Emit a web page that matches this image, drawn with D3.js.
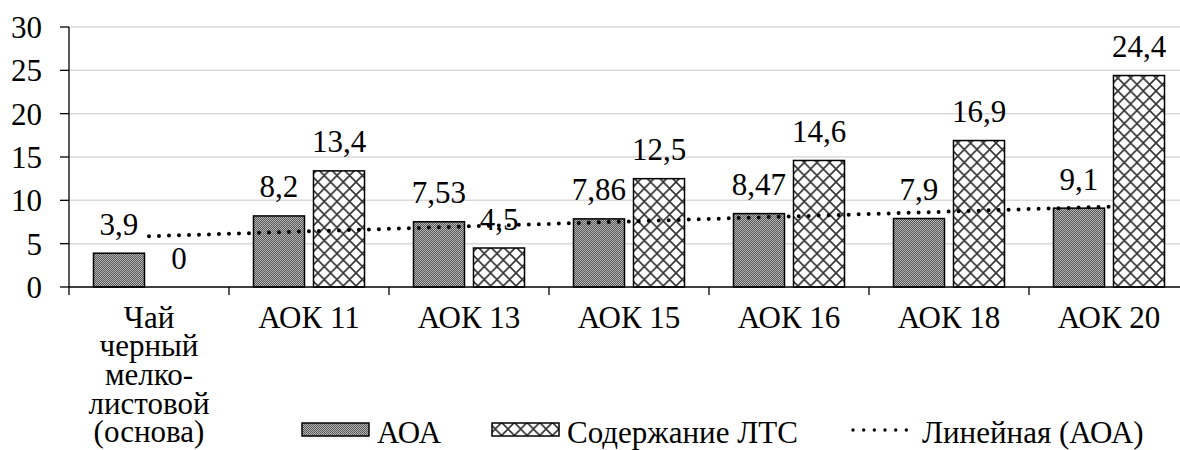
<!DOCTYPE html>
<html>
<head>
<meta charset="utf-8">
<script src="https://cdn.jsdelivr.net/npm/d3@7"></script>
<style>
  html, body { margin: 0; padding: 0; background: #fff; }
  svg { display: block; }
  text { font-family: "Liberation Serif", "Times New Roman", serif; fill: #000; }
</style>
</head>
<body>
<svg id="chart" width="1180" height="450"></svg>
<script>
// Categories (multi-line names split on \n)
const categories = [
  "Чай\nчерный\nмелко-\nлистовой\n(основа)",
  "АОК 11", "АОК 13", "АОК 15", "АОК 16", "АОК 18", "АОК 20"
];
const seriesNames = ["АОА", "Содержание ЛТС"];
const aoaValues = [3.9, 8.2, 7.53, 7.86, 8.47, 7.9, 9.1];
const ltsValues = [0, 13.4, 4.5, 12.5, 14.6, 16.9, 24.4];
const yTicks = [0, 5, 10, 15, 20, 25, 30];
const trendName = "Линейная (АОА)";

const svg = d3.select("#chart");
const FONT = 31;
const LINE = 28.7;   // line step for wrapped category names

const plot = { left: 69, right: 1189, top: 27, bottom: 287 };

const x = d3.scaleBand().domain(d3.range(categories.length))
  .range([plot.left, plot.right]).paddingInner(0).paddingOuter(0);
const xs = d3.scaleBand().domain(seriesNames)
  .range([0, x.bandwidth()]).paddingInner(0.15).paddingOuter(0.408);
const y = d3.scaleLinear().domain([0, 30]).range([plot.bottom, plot.top]);

const fmt = v => String(v).replace(".", ",");

function label(sel, tx, ty, anchor, str) {
  return sel.append("text").attr("x", tx).attr("y", ty)
    .attr("text-anchor", anchor).attr("font-size", FONT).text(str);
}

// Fill patterns
const defs = svg.append("defs");
const dotPat = defs.append("pattern").attr("id", "pat-aoa")
  .attr("patternUnits", "userSpaceOnUse").attr("width", 2).attr("height", 2);
dotPat.append("rect").attr("width", 2).attr("height", 2).attr("fill", "#b8b8b8");
dotPat.append("rect").attr("x", 0).attr("y", 0).attr("width", 1).attr("height", 1).attr("fill", "#555");
dotPat.append("rect").attr("x", 1).attr("y", 1).attr("width", 1).attr("height", 1).attr("fill", "#555");

const PW = 12.7, PH = 13;
const crossPat = defs.append("pattern").attr("id", "pat-lts")
  .attr("patternUnits", "userSpaceOnUse").attr("width", PW).attr("height", PH);
crossPat.append("rect").attr("width", PW).attr("height", PH).attr("fill", "#fff");
crossPat.append("path")
  .attr("d", `M0,0L${PW},${PH}M${PW},0L0,${PH}`)
  .attr("stroke", "#333").attr("stroke-width", 1.6).attr("fill", "none");

const fills = { "АОА": "url(#pat-aoa)", "Содержание ЛТС": "url(#pat-lts)" };

// Gridlines
svg.append("g").selectAll("line").data(yTicks.filter(t => t > 0)).join("line")
  .attr("x1", plot.left).attr("x2", plot.right)
  .attr("y1", d => y(d)).attr("y2", d => y(d))
  .attr("stroke", "#d9d9d9").attr("stroke-width", 1.5);

// Bars
const rows = categories.map((c, i) => ({
  i, vals: [{ s: seriesNames[0], v: aoaValues[i] }, { s: seriesNames[1], v: ltsValues[i] }]
}));
const groups = svg.append("g").selectAll("g").data(rows).join("g")
  .attr("transform", d => `translate(${x(d.i)},0)`);
groups.selectAll("rect").data(d => d.vals.filter(e => e.v > 0)).join("rect")
  .attr("x", e => xs(e.s)).attr("width", xs.bandwidth())
  .attr("y", e => y(e.v)).attr("height", e => y(0) - y(e.v))
  .attr("fill", e => fills[e.s]).attr("stroke", "#000").attr("stroke-width", 1.5);

// Axes
const axes = svg.append("g").attr("stroke", "#000").attr("stroke-width", 1.3);
axes.append("line").attr("x1", plot.left).attr("x2", plot.left)
  .attr("y1", plot.top).attr("y2", plot.bottom);
axes.selectAll(".yt").data(yTicks).join("line").attr("class", "yt")
  .attr("x1", plot.left - 9).attr("x2", plot.left)
  .attr("y1", d => y(d)).attr("y2", d => y(d));
axes.append("line").attr("x1", plot.left).attr("x2", plot.right)
  .attr("y1", plot.bottom).attr("y2", plot.bottom);
axes.selectAll(".xt").data(d3.range(categories.length + 1)).join("line").attr("class", "xt")
  .attr("x1", i => plot.left + i * x.step()).attr("x2", i => plot.left + i * x.step())
  .attr("y1", plot.bottom).attr("y2", plot.bottom + 8);

// Y tick labels
const yl = svg.append("g");
yTicks.forEach(t => label(yl, 42, y(t) + 11, "end", String(t)));

// Category labels (one text element per category, wrapped with tspans)
const xl = svg.append("g");
categories.forEach((c, i) => {
  const cx = x(i) + x.bandwidth() / 2;
  const t = xl.append("text").attr("x", cx).attr("y", 327.5)
    .attr("text-anchor", "middle").attr("font-size", FONT);
  c.split("\n").forEach((line, k) => {
    t.append("tspan").attr("x", cx).attr("dy", k === 0 ? 0 : LINE).text(line);
  });
});

// Linear trendline for AOA (least squares over category index)
const n = aoaValues.length;
const mx = d3.mean(d3.range(n)), my = d3.mean(aoaValues);
const slope = d3.sum(d3.range(n), i => (i - mx) * (aoaValues[i] - my)) /
              d3.sum(d3.range(n), i => (i - mx) ** 2);
const icpt = my - slope * mx;
const trendPts = [0, n - 1].map(i => [x(i) + x.bandwidth() / 2, y(icpt + slope * i)]);
svg.append("path").attr("d", d3.line()(trendPts))
  .attr("fill", "none").attr("stroke", "#000").attr("stroke-width", 4)
  .attr("stroke-linecap", "round").attr("stroke-dasharray", "0 10");

// Value labels
const vl = svg.append("g");
rows.forEach(r => r.vals.forEach(e => {
  const cx = x(r.i) + xs(e.s) + xs.bandwidth() / 2;
  label(vl, cx, y(e.v) - 18.5, "middle", fmt(e.v));
}));

// Legend
const lg = svg.append("g");
const LY = 443;
const swatchX = [302, 492];
seriesNames.forEach((s, k) => {
  lg.append("rect").attr("x", swatchX[k]).attr("y", 423).attr("width", 67).attr("height", 13)
    .attr("fill", fills[s]).attr("stroke", "#000").attr("stroke-width", 1.5);
  label(lg, swatchX[k] + 75, LY, "start", s);
});
lg.append("line").attr("x1", 853).attr("x2", 917).attr("y1", 430).attr("y2", 430)
  .attr("stroke", "#000").attr("stroke-width", 3.4)
  .attr("stroke-linecap", "round").attr("stroke-dasharray", "0 10.67");
label(lg, 922, LY, "start", trendName);
</script>
</body>
</html>
